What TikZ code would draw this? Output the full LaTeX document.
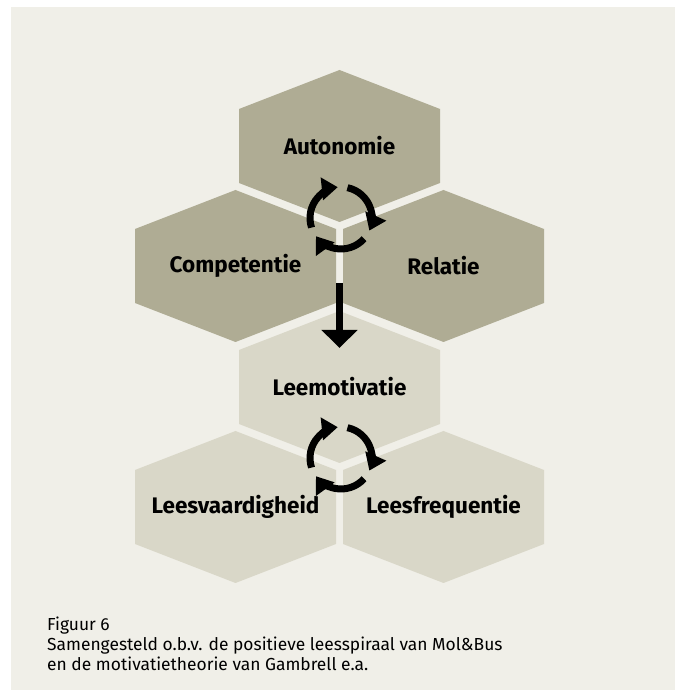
\documentclass[tikz,border=0pt]{standalone}
\usepackage{fontspec}
\setmainfont{Fira Sans}
\usepackage{tikz}
\usetikzlibrary{arrows.meta,calc,positioning}
\definecolor{achter}{HTML}{F0EFE8}
\definecolor{donker}{HTML}{AFAC94}
\definecolor{licht}{HTML}{D9D7C8}
\tikzset{
    hexlabel/.style={
           font=\fontsize{22.5}{26}\selectfont\bfseries,
           inner sep=0pt,
           text centered,
           },
    kring/.style={
           line width=7pt,
           -{Triangle[width=22pt,length=16pt]},
           },
    pijl/.style={
           line width=7pt,
           -{Triangle[width=35pt,length=18pt]},
           },
    bijschrift/.style={
           font=\fontsize{17.4}{21}\selectfont,
           inner sep=0pt,
           anchor=base west,
           }
}
% zeshoek rond een middelpunt
\newcommand{\hexcel}[2]{\fill[#2, shift={#1}] (0,76) -- (100.5,37) -- (100.5,-37) -- (0,-76) -- (-100.5,-37) -- (-100.5,37) -- cycle;}
% drie pijlen in een kring
\newcommand{\kringloop}[1]{%
  \draw[kring] ([shift={(198:31)}]#1) arc[start angle=198, end angle=96, radius=31];
  \draw[kring] ([shift={(78:31)}]#1) arc[start angle=78, end angle=-24, radius=31];
  \draw[kring] ([shift={(-42:31)}]#1) arc[start angle=-42, end angle=-144, radius=31];}

\begin{document}
\begin{tikzpicture}[x=1pt,y=1pt]
\useasboundingbox (0,0) rectangle (675,690);
\fill[achter] (11,0) rectangle (675,683);
\hexcel{(339.5,544)}{donker}
\hexcel{(235.5,424)}{donker}
\hexcel{(443.5,424)}{donker}
\hexcel{(339.5,303)}{licht}
\hexcel{(235.5,183)}{licht}
\hexcel{(443.5,183)}{licht}
\node[hexlabel] (auto) at (339.5,544) {Autonomie};
\node[hexlabel] (comp) at (235.5,424) {Competentie};
\node[hexlabel] (rel) at (443.5,424) {Relatie};
\node[hexlabel] (mot) at (339.5,303) {Leemotivatie};
\node[hexlabel] (vaard) at (235.5,183) {Leesvaardigheid};
\node[hexlabel] (freq) at (443.5,183) {Leesfrequentie};
\coordinate (k1) at (341,472);
\coordinate (k2) at (341,232);
\kringloop{k1}
\kringloop{k2}
\coordinate (p1) at (339.5,407);
\coordinate (p2) at (339.5,342);
\draw[pijl] (p1) -- (p2);
\node[bijschrift] (fig) at (47,59) {Figuur 6};
\node[bijschrift] (bron1) at (47,39) {Samengesteld o.b.v. de positieve leesspiraal van Mol\&Bus};
\node[bijschrift] (bron2) at (47,19) {en de motivatietheorie van Gambrell e.a.};
\end{tikzpicture}
\end{document}
